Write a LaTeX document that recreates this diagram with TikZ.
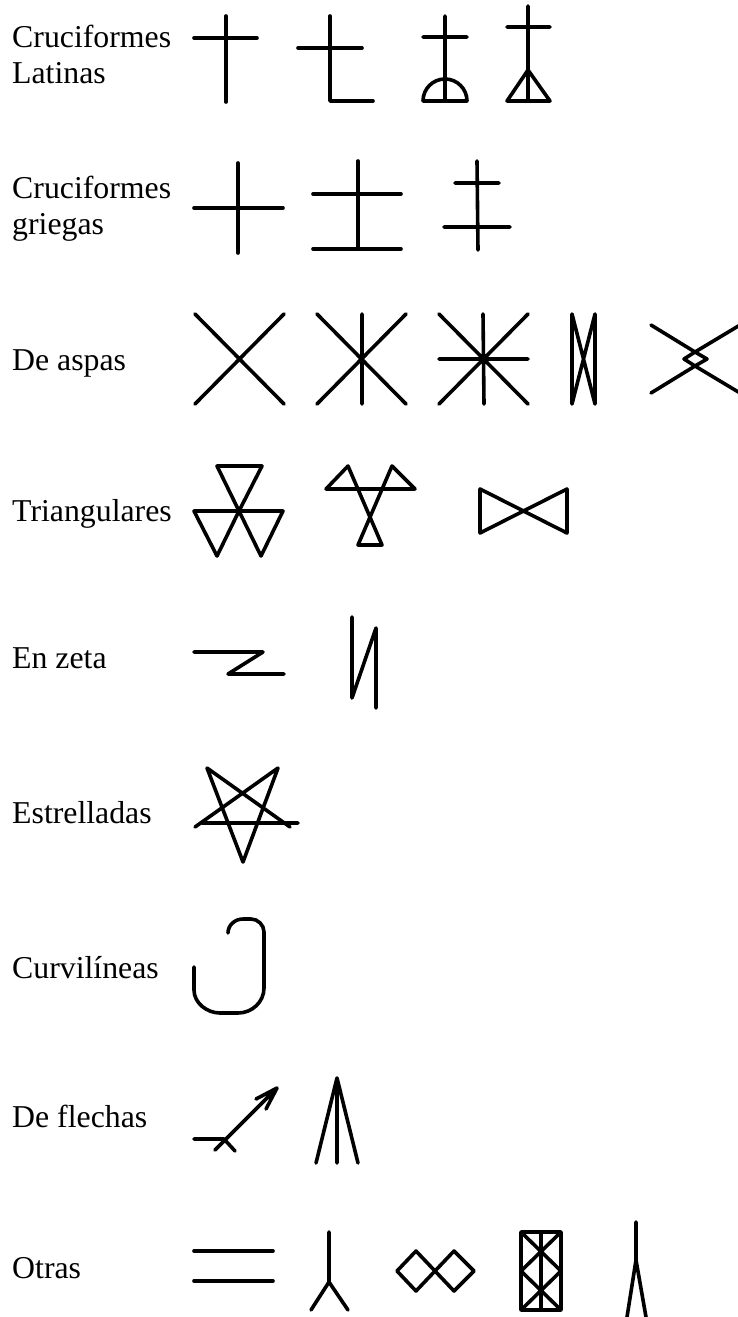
\documentclass[tikz,border=0pt]{standalone}
\usepackage{fontspec}
\setmainfont{Liberation Serif}

\begin{document}
\begin{tikzpicture}[x=1pt,y=-1pt,
				etiqueta/.style={anchor=base west,inner sep=0pt,
					font=\fontsize{31.8}{36}\selectfont},
				trazo/.style={line width=3.6pt,line cap=round,line join=round}]
				
				\useasboundingbox (0,0) rectangle (737,1317);
				
				\node[etiqueta] (latA) at (12,47)   {Cruciformes};
				\node[etiqueta] (latB) at (12,83)   {Latinas};
				\node[etiqueta] (grA)  at (12,198)  {Cruciformes};
				\node[etiqueta] (grB)  at (12,234)  {griegas};
				\node[etiqueta] (asp)  at (12,370)  {De aspas};
				\node[etiqueta] (tri)  at (12,521)  {Triangulares};
				\node[etiqueta] (zet)  at (12,668)  {En zeta};
				\node[etiqueta] (est)  at (12,823)  {Estrelladas};
				\node[etiqueta] (cur)  at (12,978)  {Curvilíneas};
				\node[etiqueta] (fle)  at (12,1127) {De flechas};
				\node[etiqueta] (otr)  at (12,1278) {Otras};
				
				\draw[trazo] (226,16)--(226,102) (194,38)--(257,38);
				\draw[trazo] (330,16)--(330,101)--(373,101) (298,48)--(362,48);
				\draw[trazo] (445,16)--(445,101) (423,37)--(467,37)
				(423,101)--(467,101) .. controls (467,88.85) and (457.15,79) .. (445,79)
				.. controls (432.85,79) and (423,88.85) .. (423,101);
				\draw[trazo] (528,6)--(528,101) (507,27)--(550,27)
				(507,101)--(528,70)--(550,101)--cycle;
				
				\draw[trazo] (238,163)--(238,253) (194,208)--(283,208);
				\draw[trazo] (358,161)--(358,249) (313,194)--(401,194) (313,249)--(401,249);
				\draw[trazo] (477,161)--(478,250) (455,183)--(499,183) (444,227)--(510,227);
				
				\draw[trazo] (195,314)--(284,404) (195,404)--(284,314);
				\draw[trazo] (317,314)--(406,404) (317,404)--(406,314) (362,314)--(362,404);
				\draw[trazo] (439,314)--(528,404) (439,404)--(528,314) (483,314)--(484,404)
				(439,359)--(528,359);
				\draw[trazo] (572,404)--(572,314)--(595,404)--(595,314)--cycle;
				\draw[trazo] (651,325)--(695,352)--(740,325) (651,393)--(695,366)--(740,393)
				(695,352)--(684,359)--(695,366)--(707,359)--cycle;
				
				\draw[trazo] (217,466)--(262,466)--(239,511)--cycle
				(194,511)--(239,511)--(217,556)--cycle
				(239,511)--(283,511)--(261,556)--cycle;
				\draw[trazo] (348,466)--(382,545)--(358,545)--(392,466)--(415,489)--(326,489)--cycle;
				\draw[trazo] (480,489)--(567,533)--(567,489)--(480,533)--cycle;
				
				\draw[trazo] (194,652)--(263,652)--(228,674)--(284,674);
				\draw[trazo] (352,617)--(352,698)--(376,628)--(376,708);
				
				\draw[trazo] (195,827)--(278,768)--(243,862)--(207,768)--(290,827)
				(202,823)--(298,823);
				
				\draw[trazo] (194,967)--(194,990) .. controls (194,1003) and (207,1013) .. (220,1013)
				--(238,1013) .. controls (252,1013) and (264,1002) .. (264,988)
				--(264,932) .. controls (264,925) and (258,919) .. (251,919)
				--(243,919) .. controls (235,919) and (228,925) .. (228,933);
				
				\draw[trazo] (194,1139)--(224,1139)--(235,1151) (215,1150)--(277,1088)
				(256,1099)--(277,1088)--(266,1109);
				\draw[trazo] (316,1163)--(337,1078)--(358,1163) (337,1078)--(337,1163);
				
				\draw[trazo] (194,1251)--(273,1251) (194,1281)--(273,1281);
				\draw[trazo] (329,1232)--(329,1282)--(311,1310) (329,1282)--(348,1310);
				\draw[trazo] (397,1271)--(416,1251)--(435,1271)--(454,1251)--(474,1271)
				--(454,1291)--(435,1271)--(416,1291)--cycle;
				\draw[trazo] (521,1232) rectangle (561,1310) (541,1232)--(541,1310)
				(521,1232)--(561,1271)--(521,1310) (561,1232)--(521,1271)--(561,1310);
				\draw[trazo] (636,1222)--(636,1260)--(627,1317) (636,1260)--(646,1317);
			\end{tikzpicture}
\end{document}
